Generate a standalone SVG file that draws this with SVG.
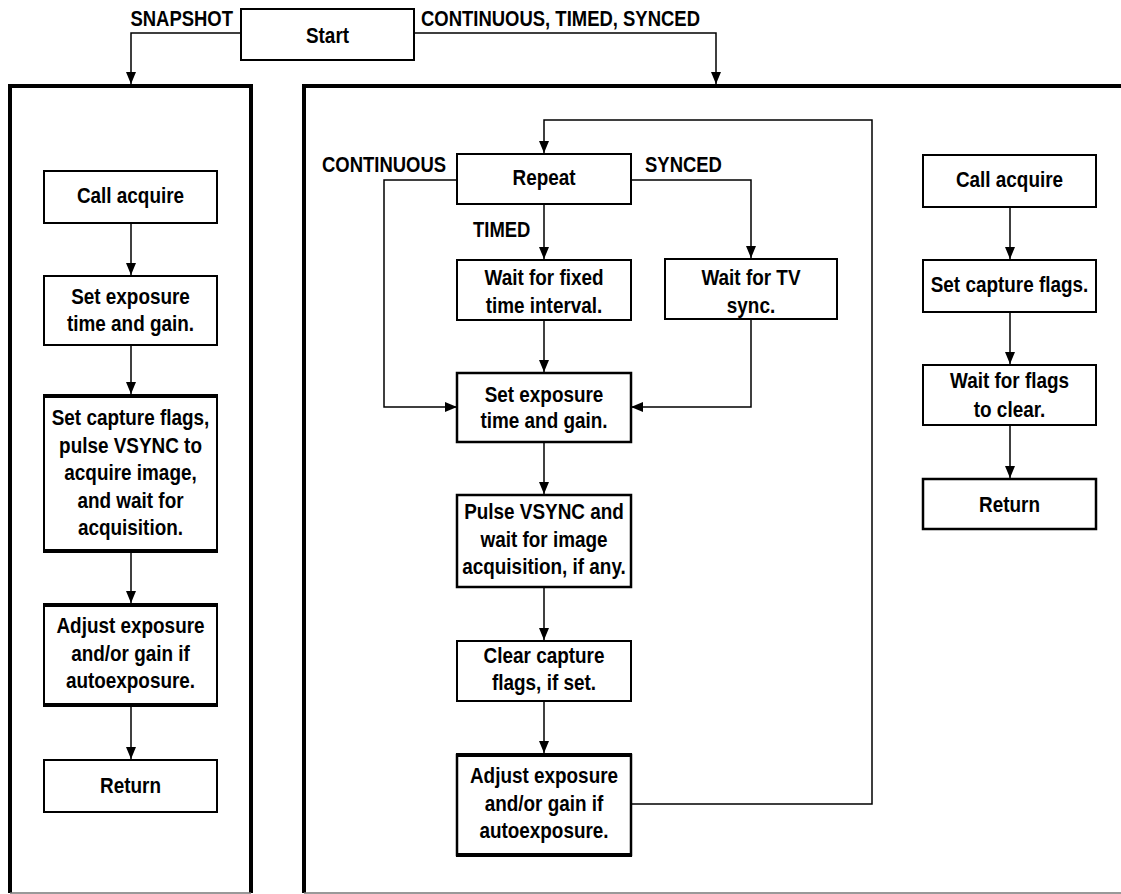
<svg xmlns="http://www.w3.org/2000/svg" width="1121" height="894" viewBox="0 0 1121 894">
<style>
text{font-family:"Liberation Sans",Arial,Helvetica,sans-serif;font-weight:bold;font-size:22px;fill:#000}
.c{text-anchor:middle}
.box{fill:#fff;stroke:#000;stroke-width:2}
.bar{stroke:#000;stroke-width:4}
.panel{fill:none;stroke:#000;stroke-width:4}
.pbot{stroke:#777;stroke-width:1.5}
.ln{fill:none;stroke:#000;stroke-width:1.5}
.arr{fill:none;stroke:#000;stroke-width:1.5;marker-end:url(#ah)}
</style>
<defs>
<marker id="ah" viewBox="0 0 12 10" refX="12" refY="5" markerWidth="12" markerHeight="10" markerUnits="userSpaceOnUse" orient="auto"><path d="M0,0 L12,5 L0,10 z" fill="#000"/></marker>
</defs>
<rect width="1121" height="894" fill="#fff"/>

<g id="panels">
<path class="panel" d="M10,893 V86 H251 V893"/>
<line class="pbot" x1="10" y1="893" x2="251" y2="893"/>
<path class="panel" d="M304,893 V86 H1125"/>
<line class="pbot" x1="304" y1="893" x2="1121" y2="893"/>
</g>

<g id="connectors">
<path class="arr" d="M241,33 H131 V84"/>
<path class="arr" d="M414,33 H716 V84"/>
<path class="arr" d="M131,223 V275"/>
<path class="arr" d="M131,345 V394"/>
<path class="arr" d="M131,553 V603"/>
<path class="arr" d="M131,707 V759"/>
<path class="arr" d="M631,804 H872 V120 H544 V153"/>
<path class="arr" d="M457,180 H384 V407 H457"/>
<path class="arr" d="M631,180 H751 V258"/>
<path class="arr" d="M751,319 V407 H631"/>
<path class="arr" d="M544,204 V259"/>
<path class="arr" d="M544,320 V372"/>
<path class="arr" d="M544,442 V494"/>
<path class="arr" d="M544,587 V640"/>
<path class="arr" d="M544,701 V753"/>
<path class="arr" d="M1010,207 V259"/>
<path class="arr" d="M1010,312 V364"/>
<path class="arr" d="M1010,425 V478"/>
</g>

<g id="labels">
<text transform="matrix(0.84 0 0 1 233 26)" style="text-anchor:end">SNAPSHOT</text>
<text transform="matrix(0.84 0 0 1 421 26)">CONTINUOUS, TIMED, SYNCED</text>
<text transform="matrix(0.84 0 0 1 322 172)">CONTINUOUS</text>
<text transform="matrix(0.84 0 0 1 645 172)">SYNCED</text>
<text transform="matrix(0.84 0 0 1 473 237)">TIMED</text>
</g>

<g id="start">
<rect class="box" x="241" y="9" width="173" height="51"/>
<text class="c" transform="matrix(0.86 0 0 1 327.5 43)">Start</text>
</g>

<g id="l-call">
<rect class="box" x="44" y="171" width="173" height="52"/>
<text class="c" transform="matrix(0.86 0 0 1 130.5 203)">Call acquire</text>
</g>
<g id="l-setexp">
<rect class="box" x="44" y="276" width="173" height="69"/>
<text class="c" transform="matrix(0.86 0 0 1 130.5 304)">Set exposure</text>
<text class="c" transform="matrix(0.86 0 0 1 130.5 331)">time and gain.</text>
</g>
<g id="l-capture">
<rect class="box" x="44" y="396" width="173" height="155"/>
<line class="bar" x1="43" y1="396" x2="218" y2="396"/>
<line class="bar" x1="43" y1="551" x2="218" y2="551"/>
<text class="c" transform="matrix(0.86 0 0 1 130.5 425)">Set capture flags,</text>
<text class="c" transform="matrix(0.86 0 0 1 130.5 453)">pulse VSYNC to</text>
<text class="c" transform="matrix(0.86 0 0 1 130.5 480)">acquire image,</text>
<text class="c" transform="matrix(0.86 0 0 1 130.5 508)">and wait for</text>
<text class="c" transform="matrix(0.86 0 0 1 130.5 535)">acquisition.</text>
</g>
<g id="l-adjust">
<rect class="box" x="44" y="605" width="173" height="100"/>
<line class="bar" x1="43" y1="605" x2="218" y2="605"/>
<line class="bar" x1="43" y1="705" x2="218" y2="705"/>
<text class="c" transform="matrix(0.86 0 0 1 130.5 633)">Adjust exposure</text>
<text class="c" transform="matrix(0.86 0 0 1 130.5 661)">and/or gain if</text>
<text class="c" transform="matrix(0.86 0 0 1 130.5 688)">autoexposure.</text>
</g>
<g id="l-return">
<rect class="box" x="44" y="760" width="173" height="52"/>
<text class="c" transform="matrix(0.86 0 0 1 130.5 793)">Return</text>
</g>

<g id="m-repeat">
<rect class="box" x="457" y="154" width="174" height="50"/>
<text class="c" transform="matrix(0.86 0 0 1 544 185)">Repeat</text>
</g>
<g id="m-waitfixed">
<rect class="box" x="457" y="260" width="174" height="60"/>
<text class="c" transform="matrix(0.86 0 0 1 544 285)">Wait for fixed</text>
<text class="c" transform="matrix(0.86 0 0 1 544 313)">time interval.</text>
</g>
<g id="m-waittv">
<rect class="box" x="665" y="259" width="172" height="60"/>
<text class="c" transform="matrix(0.86 0 0 1 751 285)">Wait for TV</text>
<text class="c" transform="matrix(0.86 0 0 1 751 313)">sync.</text>
</g>
<g id="m-setexp">
<rect class="box" x="457" y="373" width="174" height="69" style="stroke-width:2.5"/>
<text class="c" transform="matrix(0.86 0 0 1 544 402)">Set exposure</text>
<text class="c" transform="matrix(0.86 0 0 1 544 428)">time and gain.</text>
</g>
<g id="m-pulse">
<rect class="box" x="457" y="495" width="174" height="92" style="stroke-width:2.5"/>
<text class="c" transform="matrix(0.86 0 0 1 544 519)">Pulse VSYNC and</text>
<text class="c" transform="matrix(0.86 0 0 1 544 547)">wait for image</text>
<text class="c" transform="matrix(0.86 0 0 1 544 574)">acquisition, if any.</text>
</g>
<g id="m-clear">
<rect class="box" x="457" y="641" width="174" height="60"/>
<text class="c" transform="matrix(0.86 0 0 1 544 663)">Clear capture</text>
<text class="c" transform="matrix(0.86 0 0 1 544 690)">flags, if set.</text>
</g>
<g id="m-adjust">
<rect class="box" x="457" y="755" width="174" height="100" style="stroke-width:2.5"/>
<line class="bar" x1="456" y1="755" x2="632" y2="755"/>
<line class="bar" x1="456" y1="855" x2="632" y2="855"/>
<text class="c" transform="matrix(0.86 0 0 1 544 783)">Adjust exposure</text>
<text class="c" transform="matrix(0.86 0 0 1 544 811)">and/or gain if</text>
<text class="c" transform="matrix(0.86 0 0 1 544 838)">autoexposure.</text>
</g>

<g id="r-call">
<rect class="box" x="923" y="155" width="173" height="52"/>
<text class="c" transform="matrix(0.86 0 0 1 1009.5 187)">Call acquire</text>
</g>
<g id="r-setcap">
<rect class="box" x="923" y="260" width="173" height="52"/>
<text class="c" transform="matrix(0.86 0 0 1 1009.5 292)">Set capture flags.</text>
</g>
<g id="r-waitflags">
<rect class="box" x="923" y="365" width="173" height="60"/>
<text class="c" transform="matrix(0.86 0 0 1 1009.5 388)">Wait for flags</text>
<text class="c" transform="matrix(0.86 0 0 1 1009.5 417)">to clear.</text>
</g>
<g id="r-return">
<rect class="box" x="923" y="479" width="173" height="50" style="stroke-width:2.5"/>
<text class="c" transform="matrix(0.86 0 0 1 1009.5 512)">Return</text>
</g>
</svg>
